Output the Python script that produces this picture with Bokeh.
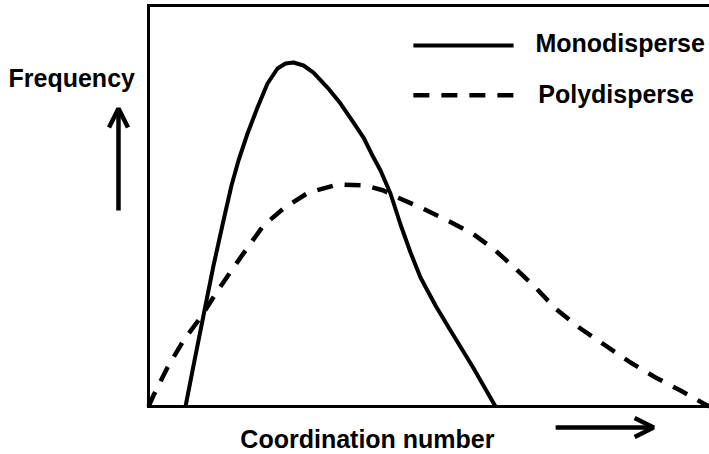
from bokeh.plotting import figure
from bokeh.models import Range1d, Label, Arrow, OpenHead
from bokeh.embed import file_html
from bokeh.resources import INLINE

# ---- data (arbitrary units) ----
mono_x = [0.661, 0.821, 0.982, 1.161, 1.339, 1.482, 1.607, 1.768, 1.946, 2.125, 2.304,
          2.446, 2.589, 2.768, 2.946, 3.196, 3.429, 3.661, 3.839, 4.018, 4.143, 4.321,
          4.500, 4.679, 4.857, 5.125, 5.393, 5.786, 6.196]
mono_y = [0.000, 1.147, 2.269, 3.516, 4.638, 5.511, 6.135, 6.808, 7.456, 8.055, 8.429,
          8.554, 8.579, 8.504, 8.329, 7.955, 7.556, 7.082, 6.708, 6.209, 5.885, 5.312,
          4.539, 3.840, 3.217, 2.519, 1.895, 0.998, 0.000]
poly_x = [0.000, 0.089, 0.339, 0.625, 0.929, 1.214, 1.518, 1.821, 2.054, 2.411, 2.857,
          3.375, 3.875, 4.196, 4.446, 4.857, 5.339, 5.786, 6.196, 6.589, 6.911, 7.268,
          7.714, 8.161, 8.607, 9.054, 9.500, 9.911, 10.018]
poly_y = [0.000, 0.274, 0.973, 1.646, 2.219, 2.843, 3.466, 4.065, 4.514, 4.938, 5.337,
          5.536, 5.511, 5.387, 5.212, 4.963, 4.638, 4.314, 3.890, 3.392, 2.968, 2.444,
          1.945, 1.521, 1.097, 0.723, 0.399, 0.075, 0.000]
series_names = ["Monodisperse", "Polydisperse"]
x_title = "Coordination number"
y_title = "Frequency"

FONT = "Liberation Sans"
FS = "25px"
DASH = "16 12"

# the plotting frame fills the canvas; the chart box is drawn inside it
p = figure(width=709, height=454, output_backend="svg", toolbar_location=None,
           x_range=Range1d(-2.643, 10.018), y_range=Range1d(-1.197, 10.125),
           min_border=0, x_axis_location=None, y_axis_location=None)
p.outline_line_color = None
p.grid.visible = False
p.background_fill_color = "white"
p.border_fill_color = "white"

# chart box (left, top and bottom sides; right side lies off the picture)
X_MIN, X_MAX, Y_MIN, Y_MAX = 0.0, 10.2, 0.0, 10.0
p.line([X_MAX, X_MIN, X_MIN, X_MAX], [Y_MAX, Y_MAX, Y_MIN, Y_MIN],
       line_color="black", line_width=3, line_join="miter")

# curves
p.line(mono_x, mono_y, line_color="black", line_width=4, line_join="round")
p.line(poly_x, poly_y, line_color="black", line_width=4.5, line_dash=DASH)

# legend (drawn by hand)
p.line([4.73, 6.52], [9.00, 9.00], line_color="black", line_width=4)
p.line([4.73, 6.52], [7.76, 7.76], line_color="black", line_width=4.5, line_dash=DASH)

def lab(x, y, t):
    p.add_layout(Label(x=x, y=y, text=t, text_font=FONT, text_font_style="bold",
                       text_font_size=FS, text_color="black",
                       text_baseline="alphabetic", text_align="left"))

lab(6.91, 9.075, series_names[0])
lab(6.96, 7.80, series_names[1])
lab(-2.5, 8.19, y_title)
lab(1.64, -0.81, x_title)

# arrows
p.add_layout(Arrow(end=OpenHead(size=19, line_width=4.5, line_color="black"),
                   x_start=-0.536, y_start=4.89, x_end=-0.536, y_end=7.43,
                   line_width=4.5, line_color="black"))
p.add_layout(Arrow(end=OpenHead(size=19, line_width=4.5, line_color="black"),
                   x_start=7.27, y_start=-0.524, x_end=9.02, y_end=-0.524,
                   line_width=4.5, line_color="black"))

open("out.html", "w").write(file_html(p, INLINE))
